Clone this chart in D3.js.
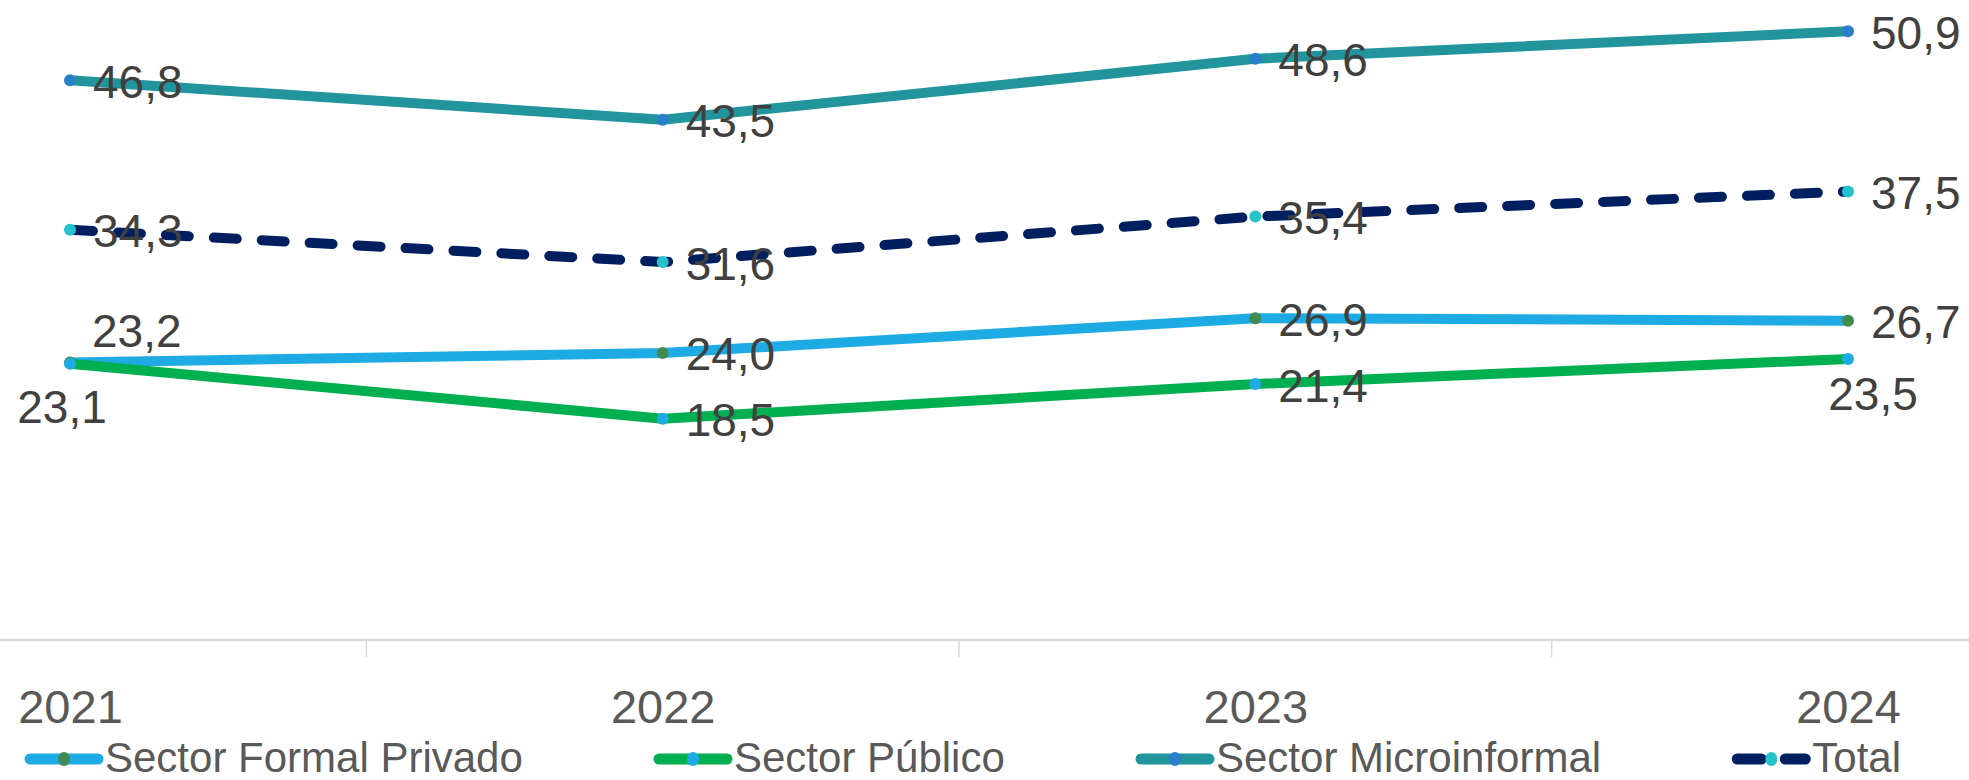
<!DOCTYPE html>
<html>
<head>
<meta charset="UTF-8">
<style>
  body { margin: 0; background: #fff; }
  svg { display: block; font-family: "Liberation Sans", Arial, sans-serif; }
</style>
</head>
<body>
<svg></svg>
<script src="https://d3js.org/d3.v7.min.js"></script>
<script>
let width = 1969, height = 780;

// data
var years = ["2021", "2022", "2023", "2024"];
var seriesNames = ["Sector Formal Privado", "Sector Público", "Sector Microinformal", "Total"];
var formalPrivado = [23.2, 24.0, 26.9, 26.7];
var sectorPublico = [23.1, 18.5, 21.4, 23.5];
var microinformal = [46.8, 43.5, 48.6, 50.9];
var total = [34.3, 31.6, 35.4, 37.5];
// where each data label sits: r = right, a = above, b = below
var labelPos = [
  ["a", "r", "r", "r"],
  ["b", "r", "r", "b"],
  ["r", "r", "r", "r"],
  ["r", "r", "r", "r"]
];

var lineColors = ["#1eabe3", "#00b050", "#21959b", "#001f5f"];
var markerColors = ["#3f8b52", "#1eabe3", "#2a80c8", "#24c3cc"];
var allValues = [formalPrivado, sectorPublico, microinformal, total];

let svg = d3.select("svg")
    .attr("width", width)
    .attr("height", height);

var x = d3.scalePoint().domain(years).range([70, 1848]);
var step = x.step();
var y = d3.scaleLinear().domain([0, 50]).range([640, 42]);

// horizontal axis line + category separators
svg.append("line")
    .attr("x1", 0).attr("x2", width)
    .attr("y1", y(0)).attr("y2", y(0))
    .attr("stroke", "#d9d9d9")
    .attr("stroke-width", 2.5);

svg.selectAll(".sep")
    .data(years.slice(1))
    .enter()
    .append("line")
    .attr("class", "sep")
    .attr("x1", d => x(d) - step / 2)
    .attr("x2", d => x(d) - step / 2)
    .attr("y1", y(0)).attr("y2", y(0) + 17)
    .attr("stroke", "#d9d9d9")
    .attr("stroke-width", 1.5);

var xAxis = svg.append("g")
    .attr("transform", "translate(0," + y(0) + ")")
    .call(d3.axisBottom(x).tickSize(0).tickPadding(0));
xAxis.select(".domain").remove();
xAxis.selectAll("text")
    .attr("y", 83)
    .attr("dy", null)
    .style("font-size", "47px")
    .style("font-family", "'Liberation Sans', Arial, sans-serif")
    .attr("fill", "#595959");

var line = d3.line()
    .x((d, i) => x(years[i]))
    .y(d => y(d));

// lines
allValues.forEach(function(vals, s) {
  var path = svg.append("path")
      .datum(vals)
      .attr("d", line)
      .attr("fill", "none")
      .attr("stroke", lineColors[s])
      .attr("stroke-width", 10)
      .attr("stroke-linejoin", "round");
  if (s == 3) {
    path.attr("stroke-dasharray", "23,25").attr("stroke-linecap", "round");
  }
  svg.append("g").selectAll("circle")
      .data(vals)
      .enter()
      .append("circle")
      .attr("cx", (d, i) => x(years[i]))
      .attr("cy", d => y(d))
      .attr("r", 6)
      .attr("fill", markerColors[s]);
});

// data labels
var fmt = d => d.toFixed(1).replace(".", ",");
allValues.forEach(function(vals, s) {
  svg.append("g").selectAll("text")
      .data(vals)
      .enter()
      .append("text")
      .attr("x", function(d, i) {
        var p = labelPos[s][i], cx = x(years[i]);
        if (p == "a") return cx + 22;
        if (p == "b") return i == 0 ? cx - 8 : cx + 25;
        return cx + 23;
      })
      .attr("y", function(d, i) {
        var p = labelPos[s][i], cy = y(d);
        if (p == "a") return cy - 16;
        if (p == "b") return i == 0 ? cy + 59 : cy + 51;
        return cy + 17.5;
      })
      .attr("text-anchor", (d, i) => labelPos[s][i] == "b" ? "middle" : "start")
      .style("font-size", "46px")
      .attr("fill", "#404040")
      .text(fmt);
});

// legend
var legend = svg.append("g");
var items = legend.selectAll(".legend")
    .data(seriesNames)
    .enter()
    .append("g")
    .attr("class", "legend");

items.each(function(name, s) {
  var g = d3.select(this);
  if (s == 3) {
    g.append("line").attr("x1", 5).attr("x2", 29).attr("y1", 0).attr("y2", 0)
      .attr("stroke", lineColors[s]).attr("stroke-width", 11).attr("stroke-linecap", "round");
    g.append("line").attr("x1", 53).attr("x2", 73).attr("y1", 0).attr("y2", 0)
      .attr("stroke", lineColors[s]).attr("stroke-width", 11).attr("stroke-linecap", "round");
  } else {
    g.append("line").attr("x1", 5).attr("x2", 73).attr("y1", 0).attr("y2", 0)
      .attr("stroke", lineColors[s]).attr("stroke-width", 11).attr("stroke-linecap", "round");
  }
  g.append("ellipse").attr("cx", 39).attr("cy", 0).attr("rx", 6).attr("ry", 7)
    .attr("fill", markerColors[s]);
  g.append("text")
    .attr("x", 80)
    .attr("y", 13)
    .style("font-size", "42px")
    .attr("fill", "#595959")
    .text(name);
});

// spread the legend items between x=25 and x=1896
var widths = [];
items.each(function() { widths.push(this.getBBox().width); });
var gap = (1871 - d3.sum(widths)) / (widths.length - 1);
var pos = 25, offsets = [];
widths.forEach(function(w) { offsets.push(pos); pos += w + gap; });
items.attr("transform", (d, i) => "translate(" + offsets[i] + ",759)");
</script>
</body>
</html>
